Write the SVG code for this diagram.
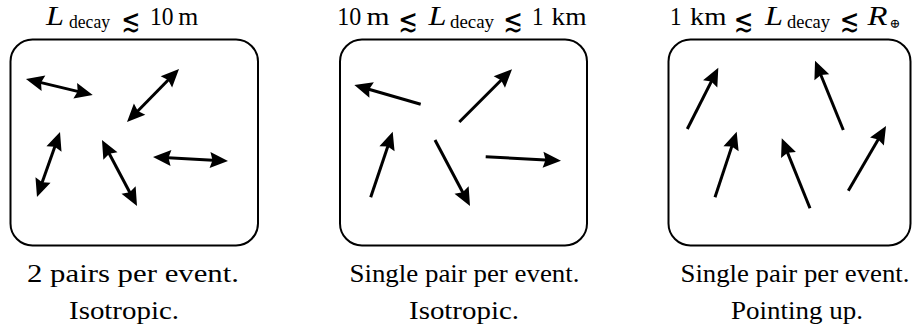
<svg xmlns="http://www.w3.org/2000/svg" width="912" height="330" viewBox="0 0 912 330">
<style>
.t{font-family:'Liberation Serif','Times New Roman',serif;fill:#000;font-size:25.5px}
.h{font-size:24.5px}
.it{font-style:italic;font-size:27px}
.sub{font-size:18px}
.sym{font-family:'DejaVu Serif','DejaVu Sans',serif;font-size:31px;font-style:normal}
.box{fill:#fff;stroke:#000;stroke-width:2}
.arr line{stroke:#000;stroke-width:3;fill:none}
.one line{marker-end:url(#ah)}
.two line{marker-start:url(#ah);marker-end:url(#ah)}
</style>
<defs>
<marker id="ah" markerUnits="userSpaceOnUse" markerWidth="28" markerHeight="28" viewBox="-14 -14 28 28" refX="0" refY="0" orient="auto-start-reverse">
<path d="M6,0 L-12,-8 L-9.5,0 L-12,8 Z" fill="#000"/>
</marker>
</defs>

<g id="panel1">
<rect class="box" x="10.5" y="39.5" width="247.5" height="206" rx="22"/>
<text class="t h" y="25"><tspan class="it" x="46" textLength="18" lengthAdjust="spacingAndGlyphs">L</tspan><tspan class="sub" x="69" y="28" textLength="41" lengthAdjust="spacingAndGlyphs">decay</tspan><tspan class="sym" x="121.5" y="30.5" textLength="19" lengthAdjust="spacingAndGlyphs">≲</tspan><tspan x="150" y="25" textLength="23.5" lengthAdjust="spacingAndGlyphs">10</tspan><tspan x="178.3" textLength="20" lengthAdjust="spacingAndGlyphs">m</tspan></text>
<text class="t" x="27" y="282" textLength="212" lengthAdjust="spacingAndGlyphs">2 pairs per event.</text>
<text class="t" x="69" y="319" textLength="110" lengthAdjust="spacingAndGlyphs">Isotropic.</text>
</g>

<g id="panel2">
<rect class="box" x="340" y="39.5" width="247" height="206" rx="22"/>
<text class="t h" y="25"><tspan x="337.3" textLength="24" lengthAdjust="spacingAndGlyphs">10</tspan><tspan x="366.5" textLength="23" lengthAdjust="spacingAndGlyphs">m</tspan><tspan class="sym" x="398.5" y="30.5" textLength="19.5" lengthAdjust="spacingAndGlyphs">≲</tspan><tspan class="it" x="428.5" y="25" textLength="18" lengthAdjust="spacingAndGlyphs">L</tspan><tspan class="sub" x="450" y="28" textLength="44" lengthAdjust="spacingAndGlyphs">decay</tspan><tspan class="sym" x="503.5" y="30.5" textLength="19.5" lengthAdjust="spacingAndGlyphs">≲</tspan><tspan x="532" y="25" textLength="11.5" lengthAdjust="spacingAndGlyphs">1</tspan><tspan x="551.5" textLength="35" lengthAdjust="spacingAndGlyphs">km</tspan></text>
<text class="t" x="349.5" y="282" textLength="230" lengthAdjust="spacingAndGlyphs">Single pair per event.</text>
<text class="t" x="409" y="319" textLength="110" lengthAdjust="spacingAndGlyphs">Isotropic.</text>
</g>

<g id="panel3">
<rect class="box" x="668.5" y="39.5" width="242" height="206" rx="22"/>
<text class="t h" y="25"><tspan x="670" textLength="11.5" lengthAdjust="spacingAndGlyphs">1</tspan><tspan x="690" textLength="36.5" lengthAdjust="spacingAndGlyphs">km</tspan><tspan class="sym" x="734" y="30.5" textLength="19.5" lengthAdjust="spacingAndGlyphs">≲</tspan><tspan class="it" x="765" y="25" textLength="18" lengthAdjust="spacingAndGlyphs">L</tspan><tspan class="sub" x="787" y="28" textLength="43" lengthAdjust="spacingAndGlyphs">decay</tspan><tspan class="sym" x="840" y="30.5" textLength="19.5" lengthAdjust="spacingAndGlyphs">≲</tspan><tspan class="it" x="867.5" y="25" textLength="20" lengthAdjust="spacingAndGlyphs">R</tspan><tspan class="sym" x="889.5" y="27.5" style="font-size:13px">⊕</tspan></text>
<text class="t" x="680.5" y="282" textLength="229" lengthAdjust="spacingAndGlyphs">Single pair per event.</text>
<text class="t" x="731" y="319" textLength="132" lengthAdjust="spacingAndGlyphs">Pointing up.</text>
</g>

<g id="connectors" class="arr">
<g id="arrows1" class="two">
<line x1="31.8" y1="80.4" x2="86.9" y2="93.6"/>
<line x1="174.8" y1="73.3" x2="131.2" y2="117.7"/>
<line x1="58" y1="137.7" x2="39" y2="191.3"/>
<line x1="104.8" y1="145.3" x2="134.2" y2="200.7"/>
<line x1="159" y1="157.3" x2="222" y2="160.7"/>
</g>
<g id="arrows2" class="one">
<line x1="420.7" y1="104.3" x2="360.1" y2="86.7"/>
<line x1="459.3" y1="122" x2="507.8" y2="73.5"/>
<line x1="370.7" y1="197.3" x2="390.8" y2="137.4"/>
<line x1="435" y1="140" x2="467.2" y2="200.7"/>
<line x1="485.7" y1="156.7" x2="555" y2="160.4"/>
</g>
<g id="arrows3" class="one">
<line x1="687.3" y1="129" x2="715.6" y2="73.1"/>
<line x1="843.3" y1="130" x2="817.3" y2="66.2"/>
<line x1="715" y1="197.3" x2="734.8" y2="137.4"/>
<line x1="810" y1="208.3" x2="784" y2="143.9"/>
<line x1="848.3" y1="190.7" x2="883" y2="131.2"/>
</g>
</g>
</svg>
